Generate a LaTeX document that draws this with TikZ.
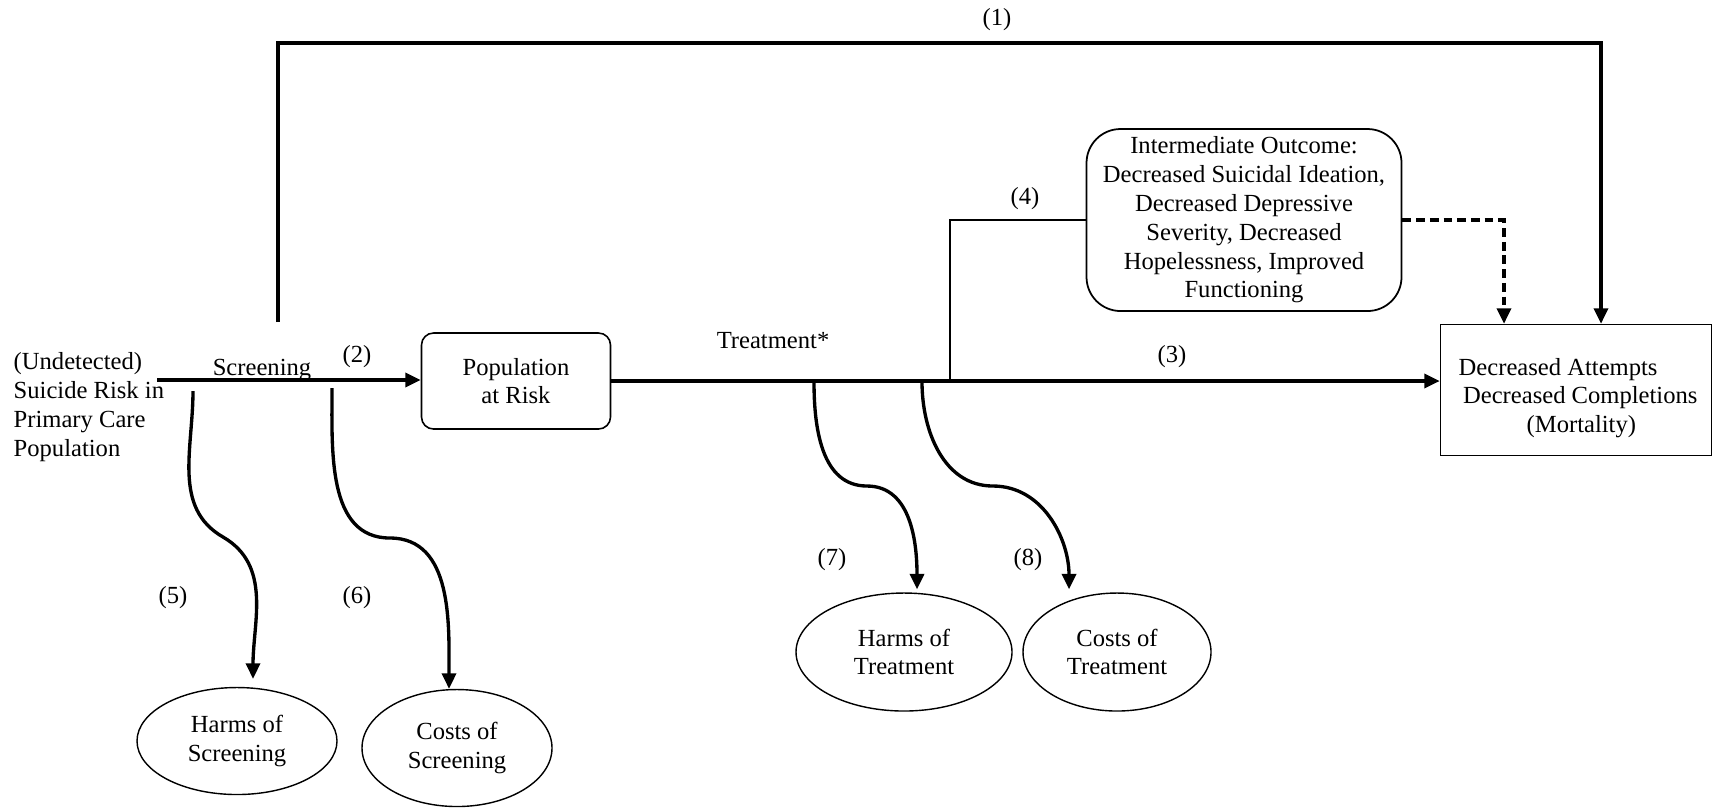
\documentclass[tikz,border=0pt]{standalone}
\usepackage{fontspec}
\setmainfont{Liberation Serif}
\usetikzlibrary{arrows.meta, shapes.geometric}

\begin{document}
\begin{tikzpicture}[x=0.1mm, y=-0.1mm,
    every node/.style={font=\fontsize{7}{8.2}\selectfont, inner sep=0pt},
    arr/.style={line width=0.95pt, -{Triangle[length=4.4pt,width=4pt]}},
    endbox/.style={draw, line width=0.4pt, ellipse, align=center}]
    \useasboundingbox (0,0) rectangle (1723,809);

    % boxes
    \node[align=left, anchor=west] (src) at (13,407)
        {(Undetected)\\Suicide Risk in\\Primary Care\\Population};
    \node[draw, line width=0.45pt, rounded corners=0.12cm, minimum width=1.89cm,
        minimum height=0.96cm, align=center] (pop) at (516,381) {Population\\at Risk};
    \node[draw, line width=0.5pt, rounded corners=0.34cm, minimum width=3.15cm,
        minimum height=1.82cm, align=center] (mid) at (1244,220)
        {Intermediate Outcome:\\Decreased Suicidal Ideation,\\Decreased Depressive\\Severity, Decreased\\Hopelessness, Improved\\Functioning};
    \node[draw, line width=0.45pt, minimum width=2.71cm, minimum height=1.31cm]
        (out) at (1576,390) {};
    \node[align=left, anchor=west] (outtxt) at (1458,398)
        {Decreased Attempts\\\hspace{0.044cm}Decreased Completions\\\hspace{0.68cm}(Mortality)};

    % harms and costs
    \node[endbox, minimum width=2.0cm, minimum height=1.07cm] (hs) at (237,741) {Harms of\\Screening};
    \node[endbox, minimum width=1.9cm, minimum height=1.17cm] (cs) at (457,748) {Costs of\\Screening};
    \node[endbox, minimum width=2.16cm, minimum height=1.18cm] (ht) at (904,652) {Harms of\\Treatment};
    \node[endbox, minimum width=1.88cm, minimum height=1.18cm] (ct) at (1117,652) {Costs of\\Treatment};

    \coordinate (scr) at (157,380);
    \coordinate (top) at (278,322);
    \coordinate (tb) at (950,380);

    % main chain
    \draw[arr] (scr) -- (scr -| pop.west);
    \draw[arr] (pop.east) -- (pop.east -| out.west);
    \draw[arr] (top) -- (278,43) -| ([xshift=0.25cm]out.north);
    \draw[line width=0.4pt] (tb) |- (mid.west);
    \draw[arr, dash pattern=on 2.5pt off 1.4pt] (mid.east) -| ([xshift=-0.72cm]out.north);

    % side effects
    \draw[arr] (193,391) to[out=-90,in=150] (223,537)
        to[out=-30,in=90] ([xshift=0.16cm,yshift=0.08cm]hs.north);
    \draw[arr] (332,388) to[out=-90,in=180] (390,538)
        to[out=0,in=90] ([xshift=-0.08cm]cs.north);
    \draw[arr] (814,382) to[out=-90,in=180] (867,486)
        to[out=0,in=90] ([xshift=0.13cm,yshift=0.03cm]ht.north);
    \draw[arr] (922,382) to[out=-90,in=180] (993,486)
        to[out=0,in=90] ([xshift=-0.48cm,yshift=0.03cm]ct.north);

    % labels
    \node (scrlbl) at (262,370) {Screening};
    \node (trtlbl) at (773,341) {Treatment*};
    \node (n1) at (997,20) {(1)};
    \node (n2) at (357,357) {(2)};
    \node (n3) at (1172,357) {(3)};
    \node (n4) at (1025,199) {(4)};
    \node (n5) at (173,598) {(5)};
    \node (n6) at (357,598) {(6)};
    \node (n7) at (832,560) {(7)};
    \node (n8) at (1028,560) {(8)};
\end{tikzpicture}
\end{document}
